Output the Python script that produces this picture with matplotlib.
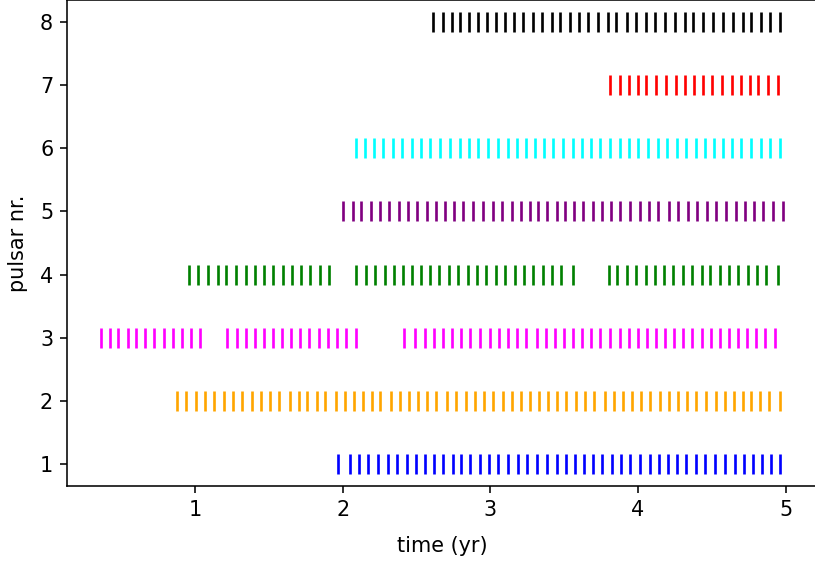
import matplotlib
matplotlib.use("Agg")
import matplotlib.pyplot as plt

# Observation epochs (years) for each pulsar
pulsar1 = [1.970, 2.045, 2.110, 2.173, 2.241, 2.304, 2.369, 2.433, 2.496, 2.557, 2.618, 2.681,
           2.744, 2.798, 2.861, 2.929, 2.990, 3.053, 3.121, 3.184, 3.249, 3.317, 3.385, 3.448,
           3.511, 3.572, 3.633, 3.696, 3.759, 3.827, 3.888, 3.949, 4.016, 4.079, 4.140, 4.204,
           4.265, 4.328, 4.391, 4.456, 4.519, 4.587, 4.655, 4.716, 4.779, 4.842, 4.903, 4.959]
pulsar2 = [0.873, 0.936, 1.002, 1.066, 1.129, 1.195, 1.253, 1.319, 1.382, 1.445, 1.506, 1.569,
           1.638, 1.699, 1.754, 1.822, 1.877, 1.952, 2.015, 2.078, 2.133, 2.194, 2.254, 2.323,
           2.386, 2.447, 2.510, 2.573, 2.634, 2.703, 2.766, 2.832, 2.895, 2.959, 3.019, 3.088,
           3.143, 3.206, 3.267, 3.327, 3.391, 3.454, 3.514, 3.578, 3.638, 3.701, 3.776, 3.839,
           3.900, 3.960, 4.023, 4.084, 4.147, 4.210, 4.271, 4.334, 4.395, 4.464, 4.527, 4.587,
           4.648, 4.711, 4.766, 4.829, 4.890, 4.959]
pulsar3 = [0.361, 0.423, 0.478, 0.540, 0.599, 0.661, 0.722, 0.784, 0.846, 0.908, 0.970, 1.031,
           1.217, 1.279, 1.340, 1.402, 1.464, 1.526, 1.588, 1.650, 1.711, 1.773, 1.835, 1.897,
           1.959, 2.020, 2.091,
           2.416, 2.487, 2.555, 2.617, 2.679, 2.740, 2.802, 2.864, 2.926, 2.994, 3.056, 3.117,
           3.182, 3.244, 3.312, 3.374, 3.436, 3.498, 3.559, 3.621, 3.683, 3.745, 3.807, 3.875,
           3.936, 3.998, 4.060, 4.122, 4.184, 4.246, 4.307, 4.369, 4.431, 4.493, 4.555, 4.616,
           4.678, 4.740, 4.802, 4.864, 4.930]
pulsar4 = [0.958, 1.020, 1.088, 1.150, 1.210, 1.278, 1.340, 1.405, 1.467, 1.529, 1.594, 1.657,
           1.719, 1.778, 1.846, 1.908,
           2.090, 2.157, 2.217, 2.285, 2.347, 2.409, 2.469, 2.531, 2.591, 2.653, 2.718, 2.780,
           2.848, 2.910, 2.970, 3.037, 3.100, 3.164, 3.227, 3.289, 3.354, 3.416, 3.479, 3.560,
           3.800, 3.858, 3.923, 3.985, 4.053, 4.115, 4.174, 4.237, 4.302, 4.364, 4.431, 4.491,
           4.553, 4.616, 4.675, 4.743, 4.805, 4.870, 4.950]
pulsar5 = [1.999, 2.067, 2.124, 2.189, 2.252, 2.315, 2.381, 2.442, 2.505, 2.568, 2.631, 2.692,
           2.753, 2.816, 2.884, 2.947, 3.015, 3.076, 3.143, 3.204, 3.267, 3.324, 3.385, 3.448,
           3.504, 3.567, 3.628, 3.696, 3.757, 3.820, 3.881, 3.944, 4.012, 4.075, 4.136, 4.210,
           4.271, 4.339, 4.402, 4.470, 4.531, 4.598, 4.662, 4.723, 4.786, 4.847, 4.914, 4.982]
pulsar6 = [2.090, 2.151, 2.214, 2.275, 2.338, 2.399, 2.466, 2.530, 2.590, 2.658, 2.726, 2.794,
           2.857, 2.918, 2.985, 3.053, 3.116, 3.177, 3.240, 3.301, 3.364, 3.425, 3.493, 3.556,
           3.617, 3.680, 3.741, 3.809, 3.876, 3.940, 4.001, 4.068, 4.136, 4.199, 4.265, 4.328,
           4.391, 4.456, 4.515, 4.576, 4.639, 4.700, 4.768, 4.831, 4.892, 4.959]
pulsar7 = [3.809, 3.876, 3.940, 4.001, 4.057, 4.120, 4.188, 4.255, 4.316, 4.377, 4.440, 4.504,
           4.571, 4.639, 4.700, 4.756, 4.813, 4.880, 4.948]
pulsar8 = [2.613, 2.676, 2.737, 2.794, 2.857, 2.918, 2.974, 3.037, 3.098, 3.159, 3.222, 3.285,
           3.346, 3.414, 3.470, 3.538, 3.601, 3.662, 3.730, 3.797, 3.854, 3.922, 3.989, 4.057,
           4.113, 4.181, 4.249, 4.316, 4.373, 4.440, 4.508, 4.576, 4.643, 4.711, 4.768, 4.835,
           4.892, 4.959]

epochs = [pulsar1, pulsar2, pulsar3, pulsar4, pulsar5, pulsar6, pulsar7, pulsar8]
pulsar_ids = [1, 2, 3, 4, 5, 6, 7, 8]
colors = ["blue", "orange", "magenta", "green", "purple", "cyan", "red", "black"]

DPI = 142
W, H = 815, 561
fig = plt.figure(figsize=(W / DPI, H / DPI), dpi=DPI)
ax = fig.add_axes([67 / W, 75 / H, 750 / W, 486 / H])

for pid, times, c in zip(pulsar_ids, epochs, colors):
    ax.plot(times, [pid] * len(times), linestyle="none", marker="|",
            markersize=10, markeredgewidth=1.35, color=c)

ax.set_yticks(pulsar_ids)
ax.set_xticks([1, 2, 3, 4, 5])
ax.tick_params(labelsize=10.5)
ax.set_xlabel("time (yr)", fontsize=10.5, labelpad=8)
ax.set_ylabel("pulsar nr.", fontsize=10.5, labelpad=6)

fig.savefig("out.png", dpi=DPI)
